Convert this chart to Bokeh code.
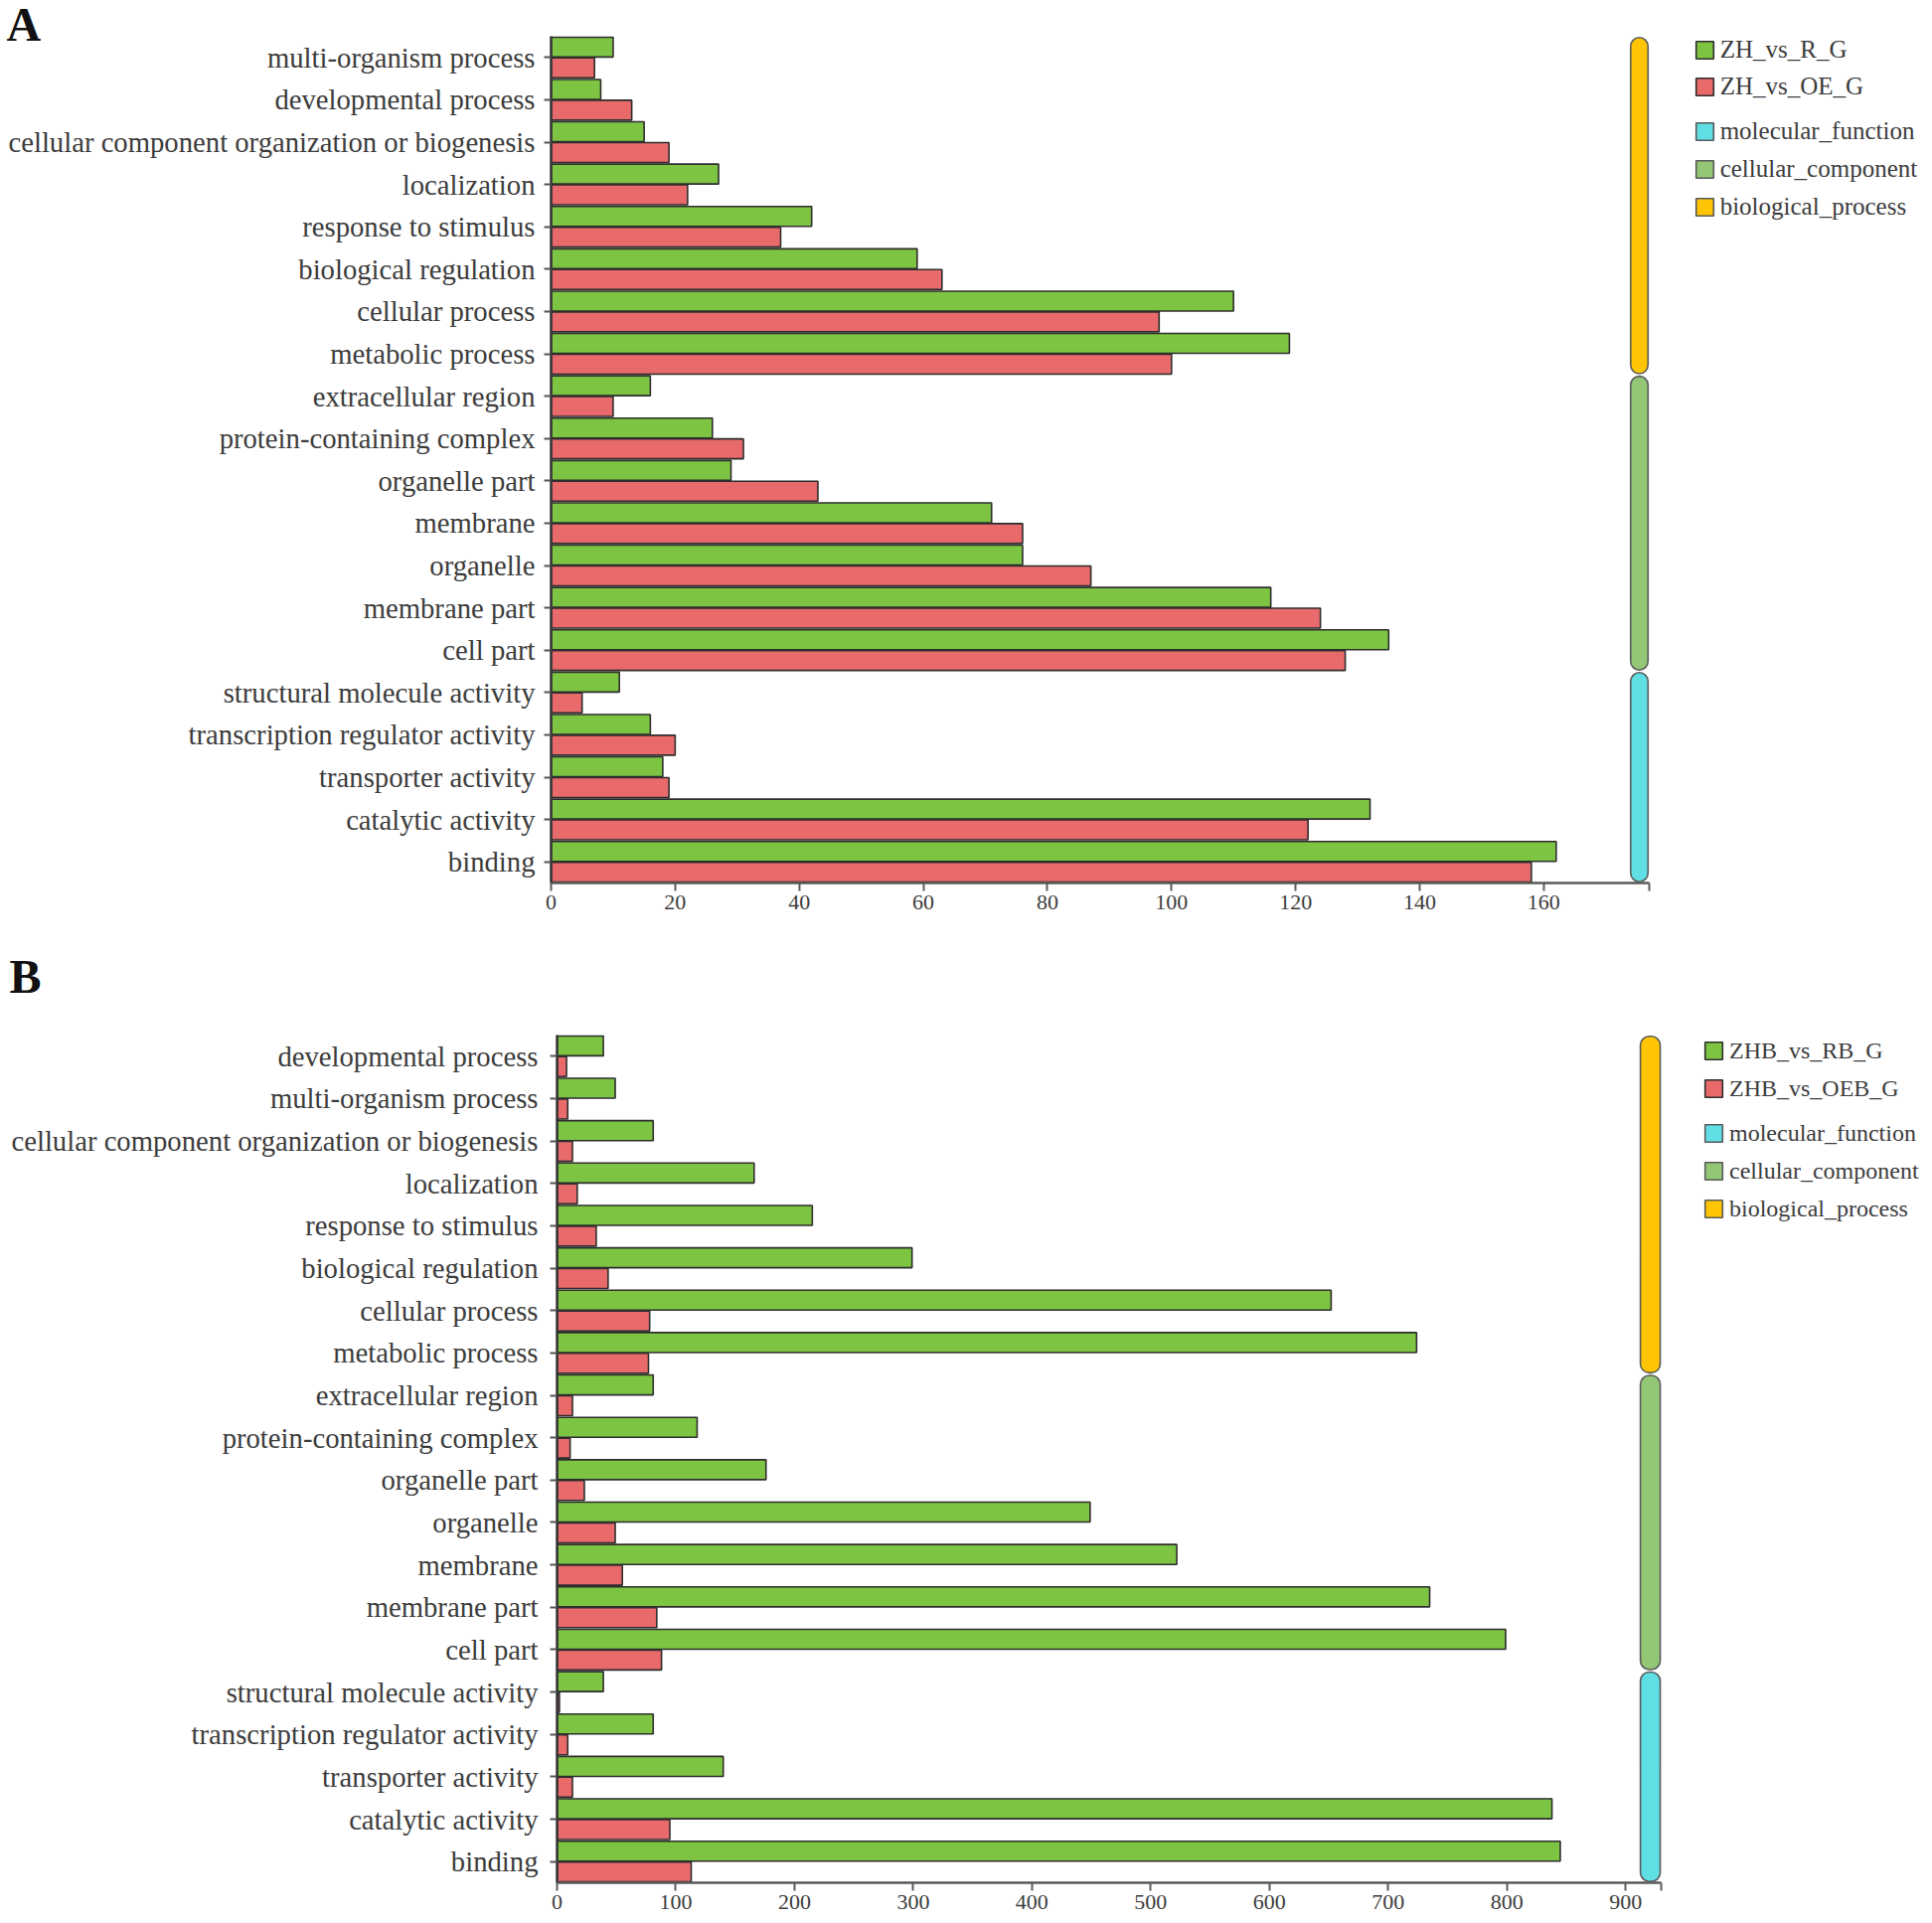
from bokeh.plotting import figure
from bokeh.models import (ColumnDataSource, FactorRange, Range1d, FixedTicker,
                          Legend, LegendItem, Label)
from bokeh.transform import dodge
from bokeh.layouts import column
from bokeh.embed import file_html
from bokeh.resources import INLINE

# ---------------- data ----------------
cats_a = ["multi-organism process", "developmental process",
          "cellular component organization or biogenesis", "localization",
          "response to stimulus", "biological regulation", "cellular process",
          "metabolic process", "extracellular region", "protein-containing complex",
          "organelle part", "membrane", "organelle", "membrane part", "cell part",
          "structural molecule activity", "transcription regulator activity",
          "transporter activity", "catalytic activity", "binding"]
green_a = [10, 8, 15, 27, 42, 59, 110, 119, 16, 26, 29, 71, 76, 116, 135, 11, 16, 18, 132, 162]
red_a = [7, 13, 19, 22, 37, 63, 98, 100, 10, 31, 43, 76, 87, 124, 128, 5, 20, 19, 122, 158]
series_a = ["ZH_vs_R_G", "ZH_vs_OE_G"]
ticks_a = [0, 20, 40, 60, 80, 100, 120, 140, 160]

cats_b = ["developmental process", "multi-organism process",
          "cellular component organization or biogenesis", "localization",
          "response to stimulus", "biological regulation", "cellular process",
          "metabolic process", "extracellular region", "protein-containing complex",
          "organelle part", "organelle", "membrane", "membrane part", "cell part",
          "structural molecule activity", "transcription regulator activity",
          "transporter activity", "catalytic activity", "binding"]
green_b = [39, 49, 81, 166, 215, 299, 652, 724, 81, 118, 176, 449, 522, 735, 799, 39, 81, 140, 838, 845]
red_b = [8, 9, 13, 17, 33, 43, 78, 77, 13, 11, 23, 49, 55, 84, 88, 2, 9, 13, 95, 113]
series_b = ["ZHB_vs_RB_G", "ZHB_vs_OEB_G"]
ticks_b = [0, 100, 200, 300, 400, 500, 600, 700, 800, 900]

group_names = ["biological_process", "cellular_component", "molecular_function"]
group_sizes = [8, 7, 5]

# ---------------- style ----------------
GREEN = "#7DC443"
RED = "#E96A6A"
GROUP_COLORS = {"biological_process": "#FFC502",
                "cellular_component": "#93C775",
                "molecular_function": "#5FDFE4"}
OUTLINE = "#2e2e2e"
FONT = "Liberation Serif"
TXT = "#3c3c3c"
PAGE_RIGHT = 1936
BORDER_LEFT = 551


def make_panel(cats, green, red, series, ticks, axis_max, axis_px, block,
               letter, border_top, border_bottom, frame_left, frame_h,
               ystandoff, leg_x, leg1_top, leg2_top, sp1, sp2, leg_font,
               margin_top):
    frame_w = PAGE_RIGHT - frame_left
    xend = axis_max * frame_w / axis_px
    cats_rev = list(reversed(cats))
    src = ColumnDataSource(dict(cat=cats, green=green, red=red))
    p = figure(frame_width=frame_w, frame_height=frame_h,
               output_backend="svg", toolbar_location=None,
               y_range=FactorRange(factors=cats_rev),
               x_range=Range1d(0, xend),
               min_border_left=BORDER_LEFT, min_border_right=0,
               min_border_top=border_top, min_border_bottom=border_bottom,
               margin=(margin_top, 0, 0, frame_left - BORDER_LEFT))
    p.outline_line_color = None
    p.grid.visible = False
    p.background_fill_color = "white"

    rg = p.hbar(y=dodge("cat", 0.245, range=p.y_range), right="green", left=0,
                height=0.47, source=src, fill_color=GREEN,
                line_color=OUTLINE, line_width=1.6)
    rr = p.hbar(y=dodge("cat", -0.245, range=p.y_range), right="red", left=0,
                height=0.47, source=src, fill_color=RED,
                line_color=OUTLINE, line_width=1.6)

    # category blocks
    tops, bottoms, cols = [], [], []
    i = 0
    for g, n in zip(group_names, group_sizes):
        tops.append(cats[i])
        bottoms.append(cats[i + n - 1])
        cols.append(GROUP_COLORS[g])
        i += n
    gsrc = ColumnDataSource(dict(top=tops, bottom=bottoms, color=cols,
                                 name=group_names))
    rq = p.quad(top=dodge("top", 0.47, range=p.y_range),
                bottom=dodge("bottom", -0.47, range=p.y_range),
                left=axis_max - block[0], right=axis_max - block[1],
                source=gsrc, fill_color="color", line_color="#5a5a5a",
                line_width=1.6, border_radius=9)

    # axes
    ax = p.xaxis[0]
    ax.bounds = (0, axis_max)
    ax.ticker = FixedTicker(ticks=ticks + [axis_max])
    ax.major_label_overrides = {axis_max: ""}
    ax.minor_tick_line_color = None
    ax.major_tick_out = 8
    ax.major_tick_in = 0
    ax.axis_line_color = "#5a5a5a"
    ax.axis_line_width = 2.5
    ax.major_tick_line_color = "#5a5a5a"
    ax.major_tick_line_width = 2
    ax.major_label_text_font = FONT
    ax.major_label_text_font_size = "22px"
    ax.major_label_text_color = TXT
    ax.major_label_standoff = 4

    ay = p.yaxis[0]
    ay.major_tick_out = 7
    ay.major_tick_in = 0
    ay.axis_line_color = "#333333"
    ay.axis_line_width = 2.5
    ay.major_tick_line_color = "#555555"
    ay.major_tick_line_width = 2
    ay.major_label_text_font = FONT
    ay.major_label_text_font_size = "28.7px"
    ay.major_label_text_color = TXT
    ay.major_label_standoff = ystandoff

    # legends (inside the wide frame, right of the axis end)
    common = dict(background_fill_alpha=0, border_line_color=None,
                  padding=0, margin=0, glyph_width=22, glyph_height=22,
                  label_standoff=5, label_text_font=FONT,
                  label_text_font_size=leg_font, label_text_color=TXT,
                  label_height=28)
    h1 = 2 * 28 + sp1
    h2 = 3 * 28 + 2 * sp2
    leg1 = Legend(items=[LegendItem(label=series[0], renderers=[rg]),
                         LegendItem(label=series[1], renderers=[rr])],
                  location=(leg_x, frame_h - leg1_top - h1), spacing=sp1,
                  **common)
    leg2 = Legend(items=[LegendItem(label=group_names[2], renderers=[rq], index=2),
                         LegendItem(label=group_names[1], renderers=[rq], index=1),
                         LegendItem(label=group_names[0], renderers=[rq], index=0)],
                  location=(leg_x, frame_h - leg2_top - h2), spacing=sp2,
                  **common)
    p.add_layout(leg1, "center")
    p.add_layout(leg2, "center")

    lab = Label(x=letter[1], y=letter[2],
                x_units="screen", y_units="screen", text=letter[0],
                text_font=FONT, text_font_style="bold",
                text_font_size="48px", text_color="#111111",
                text_baseline="alphabetic", text_align="left")
    p.add_layout(lab, "above")
    return p


pa = make_panel(cats_a, green_a, red_a, series_a, ticks_a, 177.0, 1105,
                (3.0, 0.2), ("A", -548, 12), border_top=10, border_bottom=66,
                frame_left=553, frame_h=852, ystandoff=9,
                leg_x=1152, leg1_top=0, leg2_top=82, sp1=9, sp2=10,
                leg_font="25px", margin_top=-17)
pb = make_panel(cats_b, green_b, red_b, series_b, ticks_b, 930.0, 1111,
                (17.5, 0.8), ("B", -551, 59), border_top=87, border_bottom=36,
                frame_left=559, frame_h=853, ystandoff=12,
                leg_x=1153, leg1_top=2, leg2_top=85, sp1=10, sp2=10,
                leg_font="24px", margin_top=0)

layout = column(pa, pb, spacing=0)
open("out.html", "w").write(file_html(layout, INLINE))
